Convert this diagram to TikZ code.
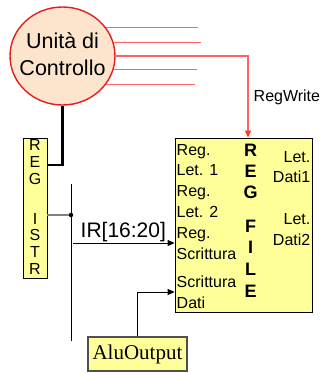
\documentclass[tikz,border=0pt]{standalone}
\usepackage{fontspec}
\setmainfont{Liberation Sans}
\newfontfamily\seriffont{Liberation Serif}
\usetikzlibrary{arrows.meta,shapes.geometric}
\definecolor{cufill}{RGB}{253,228,204}
\definecolor{cured}{RGB}{232,30,30}
\definecolor{redln}{RGB}{255,100,100}
\definecolor{redtip}{RGB}{255,60,30}
\definecolor{yel}{RGB}{255,255,153}
\definecolor{grayln}{RGB}{128,128,128}
\definecolor{aluborder}{RGB}{80,80,80}
\tikzset{
  redline/.style={draw=redln, line width=1.1pt},
  wire/.style={draw=black, line width=0.9pt},
  arr/.style={-{Triangle[length=7pt,width=6pt]}},
  lbl/.style={inner sep=0pt, font=\fontsize{16}{18}\selectfont},
  bigl/.style={inner sep=0pt, font=\fontsize{18}{20}\selectfont\bfseries},
  ybox/.style={draw=black, fill=yel, line width=0.8pt, inner sep=0pt}
}
\begin{document}
\begin{tikzpicture}[x=1pt,y=-1pt]
\useasboundingbox (0,0) rectangle (321,373);

% control unit
\node[ellipse, draw=cured, fill=cufill, line width=1.4pt, minimum width=105pt, minimum height=98pt, inner sep=0pt] (cu) at (62.5,56) {};
\node[inner sep=0pt, anchor=base, font=\fontsize{21.5}{24}\selectfont] (cu1) at (62.5,48.3) {Unità di};
\node[inner sep=0pt, anchor=base, font=\fontsize{21.5}{24}\selectfont] (cu2) at (62.5,75) {Controllo};

% boxes
\node[ybox, minimum width=137pt, minimum height=174pt] (rf) at (243.5,225) {};
\node[ybox, minimum width=24pt, minimum height=140pt] (ri) at (35,208) {};
\node[ybox, draw=aluborder, line width=1.3pt, minimum width=99pt, minimum height=34pt, font=\seriffont\fontsize{21}{24}\selectfont] (alu) at (137.5,354) {AluOutput};

% red control lines
\coordinate (e1) at (198,0);
\coordinate (e2) at (201,0);
\coordinate (rw) at (248,0);
\coordinate (e4) at (197,0);
\coordinate (e5) at (195,0);
\draw[redline] (cu.33) -- (cu.33 -| e1);
\draw[redline] (cu.15.6) -- (cu.15.6 -| e2);
\draw[redline, -{Triangle[length=7pt,width=6pt,color=redtip]}] (cu.0) -| (rw |- rf.north);
\draw[redline] (cu.-15.6) -- (cu.-15.6 -| e4);
\draw[redline] (cu.-33) -- (cu.-33 -| e5);
\node[lbl, anchor=base west] (rwl) at (253.5,101.5) {RegWrite};

% thick line from control unit to IR
\coordinate (k) at (0,165);
\draw[line width=2.5pt] (cu.south) |- (ri.east |- k);

% REG ISTR letters
\foreach \t/\y [count=\i] in {R/150,E/167,G/184,I/224,S/240.7,T/257.3,R/274}
  \node[lbl, anchor=base] (ri\i) at (35,\y) {\t};

% IR bus
\node[circle, fill=black, inner sep=0pt, minimum size=4.5pt] (dot) at (71,215) {};
\draw[draw=grayln, line width=1.5pt] (ri.east |- dot) -- (dot);
\coordinate (vt) at (71,183.5);
\coordinate (vb) at (71,341);
\draw[wire] (vt) -- (vb);
\coordinate (irs) at (73,243);
\draw[wire, arr] (irs) -- (irs -| rf.west);
\node[inner sep=0pt, anchor=base west, font=\fontsize{21}{24}\selectfont] (irl) at (80.5,237) {IR[16:20]};

% AluOutput to write data
\coordinate (ay) at (0,292);
\draw[wire, arr] (alu.north) |- (rf.west |- ay);

% REG FILE contents
\foreach \t/\y [count=\i] in {Reg./155,Let. 1/175.8,Reg./196.6,Let. 2/217.4,Reg./238.2,Scrittura/259,Scrittura/287,Dati/308}
  \node[lbl, anchor=base west] (rl\i) at (176.5,\y) {\t};
\foreach \t/\y [count=\i] in {Let./162,Dati1/182.5,Let./224.5,Dati2/245}
  \node[lbl, anchor=base east] (rr\i) at (310.5,\y) {\t};
\foreach \t/\y [count=\i] in {R/156,E/177,G/198,F/232,I/253.5,L/275,E/297}
  \node[bigl, anchor=base] (rb\i) at (250.7,\y) {\t};
\end{tikzpicture}
\end{document}
